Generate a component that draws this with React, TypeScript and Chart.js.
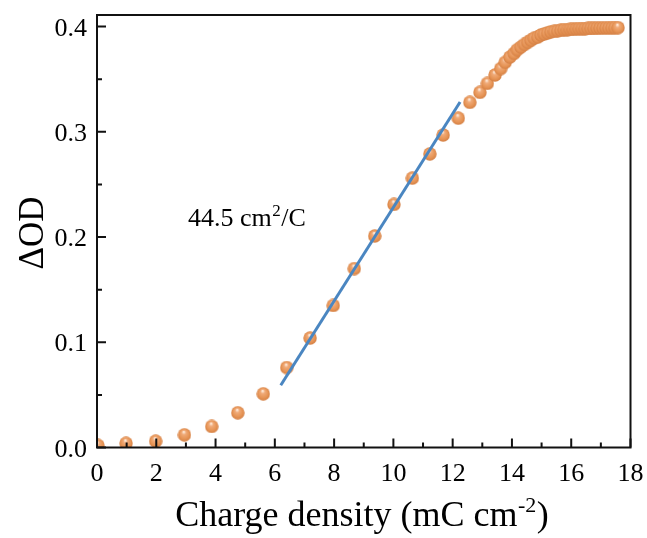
import { useEffect, useRef } from "react";
import { Chart, registerables } from "chart.js";

Chart.register(...registerables);

// Charge density (mC cm^-2) and optical density change of each sample
const chargeDensity = [
  0.03, 0.98, 1.98, 2.95, 3.87, 4.75, 5.61, 6.4, 7.19, 7.97, 8.68, 9.37, 10.02,
  10.64, 11.23, 11.68, 12.19, 12.58, 12.92, 13.17, 13.43, 13.62, 13.77, 13.93,
  14.07, 14.18, 14.3, 14.42, 14.53, 14.64, 14.75, 14.87, 14.98, 15.09, 15.2,
  15.31, 15.43, 15.54, 15.65, 15.76, 15.87, 15.97, 16.07, 16.17, 16.27, 16.37,
  16.47, 16.57, 16.67, 16.77, 16.87, 16.97, 17.07, 17.17, 17.27, 17.37, 17.47,
  17.58,
];
const deltaOD = [
  0.002, 0.004, 0.006, 0.012, 0.02, 0.033, 0.051, 0.076, 0.104, 0.135, 0.17,
  0.201, 0.231, 0.256, 0.279, 0.297, 0.313, 0.328, 0.3375, 0.346, 0.354, 0.36,
  0.366, 0.371, 0.3745, 0.378, 0.3805, 0.383, 0.385, 0.387, 0.389, 0.39, 0.392,
  0.393, 0.394, 0.395, 0.3955, 0.396, 0.3965, 0.397, 0.397, 0.3973, 0.3975,
  0.3977, 0.398, 0.398, 0.398, 0.3982, 0.3983, 0.3984, 0.3985, 0.3986, 0.3987,
  0.3988, 0.3988, 0.3989, 0.399, 0.399,
];

// Linear fit of the coloration region: 44.5 cm²/C = 0.0445 ΔOD per mC cm^-2
const fitSlope = 44.5 / 1000;
const fitIntercept = -0.2168;
const fitRange = [6.2, 12.25];

const xMajorTicks = [0, 2, 4, 6, 8, 10, 12, 14, 16, 18];
const xMinorTicks = [1, 3, 5, 7, 9, 11, 13, 15, 17];
const yMajorTicks = [0, 0.1, 0.2, 0.3, 0.4];
const yMinorTicks = [0.05, 0.15, 0.25, 0.35];
const xTickLabels = ["0", "2", "4", "6", "8", "10", "12", "14", "16", "18"];
const yTickLabels = ["0.0", "0.1", "0.2", "0.3", "0.4"];

const efficiencyMain = "44.5 cm";
const efficiencySup = "2";
const efficiencyEnd = "/C";
const xTitleMain = "Charge density (mC cm";
const xTitleSup = "-2";
const xTitleEnd = ")";
const yTitle = "ΔOD";

const SERIF = '"Liberation Serif", "Times New Roman", serif';

function makeSphere(d: number): HTMLCanvasElement {
  const c = document.createElement("canvas");
  c.width = d;
  c.height = d;
  const g = c.getContext("2d")!;
  const r = d / 2;
  const grad = g.createRadialGradient(r * 0.9, r * 0.55, 0.3, r, r, r);
  grad.addColorStop(0, "#fff1e4");
  grad.addColorStop(0.28, "#f0aa78");
  grad.addColorStop(0.7, "#e69455");
  grad.addColorStop(1, "#d27d42");
  g.fillStyle = grad;
  g.beginPath();
  g.arc(r, r, r - 0.3, 0, Math.PI * 2);
  g.fill();
  return c;
}

// draws text pieces with a raised, smaller middle piece
function drawSup(
  ctx: CanvasRenderingContext2D,
  parts: [string, string, string],
  x: number,
  base: number,
  bigPx: number,
  smallPx: number,
  rise: number,
  align: "left" | "center"
) {
  const big = `${bigPx}px ${SERIF}`;
  const small = `${smallPx}px ${SERIF}`;
  ctx.textAlign = "left";
  ctx.font = big;
  const w1 = ctx.measureText(parts[0]).width;
  const w3 = ctx.measureText(parts[2]).width;
  ctx.font = small;
  const w2 = ctx.measureText(parts[1]).width;
  const total = w1 + w2 + w3 + 1;
  let x0 = align === "center" ? x - total / 2 : x;
  ctx.font = big;
  ctx.fillText(parts[0], x0, base);
  x0 += w1 + 0.5;
  ctx.font = small;
  ctx.fillText(parts[1], x0, base - rise);
  x0 += w2 + 0.5;
  ctx.font = big;
  ctx.fillText(parts[2], x0, base);
}

const framePlugin = {
  id: "frameAndLabels",
  afterDatasetsDraw(chart: any) {
    const { ctx, chartArea } = chart;
    const xs = chart.scales.x;
    const ys = chart.scales.y;
    const { left, right, top, bottom } = chartArea;
    ctx.save();
    ctx.strokeStyle = "#111";
    ctx.lineWidth = 2;
    ctx.strokeRect(left, top, right - left, bottom - top);

    ctx.beginPath();
    const tick = (len: number, xv: number[], yv: number[]) => {
      xv.forEach((v) => {
        const px = xs.getPixelForValue(v);
        ctx.moveTo(px, bottom);
        ctx.lineTo(px, bottom - len);
      });
      yv.forEach((v) => {
        const py = ys.getPixelForValue(v);
        ctx.moveTo(left, py);
        ctx.lineTo(left + len, py);
      });
    };
    tick(9, xMajorTicks, yMajorTicks);
    tick(5, xMinorTicks, yMinorTicks);
    ctx.stroke();

    ctx.fillStyle = "#000";
    ctx.textBaseline = "alphabetic";

    // tick labels
    ctx.font = `26px ${SERIF}`;
    ctx.textAlign = "center";
    xMajorTicks.forEach((v, i) => {
      ctx.fillText(xTickLabels[i], xs.getPixelForValue(v), bottom + 33);
    });
    ctx.textAlign = "right";
    yMajorTicks.forEach((v, i) => {
      ctx.fillText(yTickLabels[i], left - 10, ys.getPixelForValue(v) + 9);
    });

    // annotation
    drawSup(ctx, [efficiencyMain, efficiencySup, efficiencyEnd], 188, 226, 26, 17, 10, "left");

    // x title
    drawSup(ctx, [xTitleMain, xTitleSup, xTitleEnd], 362, 526, 36, 22, 14, "center");

    // y title
    ctx.save();
    ctx.translate(43, 233);
    ctx.rotate(-Math.PI / 2);
    ctx.font = `35px ${SERIF}`;
    ctx.textAlign = "center";
    ctx.fillText(yTitle, 0, 0);
    ctx.restore();

    ctx.restore();
  },
};

export default function App() {
  const canvasRef = useRef<HTMLCanvasElement | null>(null);

  useEffect(() => {
    const canvas = canvasRef.current;
    if (!canvas) return;
    const sphere = makeSphere(14);
    const chart = new Chart(canvas, {
      type: "scatter",
      data: {
        datasets: [
          {
            type: "line",
            data: fitRange.map((x) => ({ x, y: fitSlope * x + fitIntercept })),
            borderColor: "#4a86c1",
            borderWidth: 3,
            pointRadius: 0,
            fill: false,
            order: 0,
          } as any,
          {
            type: "scatter",
            data: chargeDensity.map((x, i) => ({ x, y: deltaOD[i] })),
            pointStyle: sphere as any,
            pointRadius: 7,
            order: 1,
            clip: 0,
          } as any,
        ],
      },
      options: {
        responsive: false,
        animation: false,
        devicePixelRatio: 1,
        layout: { padding: { top: 15, right: 16.5, left: 0, bottom: 0 } },
        plugins: { legend: { display: false }, tooltip: { enabled: false } },
        scales: {
          x: {
            type: "linear",
            min: 0,
            max: 18,
            afterBuildTicks: (s: any) => {
              s.ticks = xMajorTicks.map((v) => ({ value: v }));
            },
            afterFit: (s: any) => {
              s.height = 90.5;
            },
            grid: { display: false, drawTicks: false },
            border: { display: false },
            ticks: { display: false },
          },
          y: {
            type: "linear",
            min: 0,
            max: 0.411,
            afterBuildTicks: (s: any) => {
              s.ticks = yMajorTicks.map((v) => ({ value: v }));
            },
            afterFit: (s: any) => {
              s.width = 97;
            },
            grid: { display: false, drawTicks: false },
            border: { display: false },
            ticks: { display: false },
          },
        },
      },
      plugins: [framePlugin],
    });
    return () => chart.destroy();
  }, []);

  return (
    <div style={{ position: "fixed", left: 0, top: 0, width: 647, height: 538, background: "#fff" }}>
      <canvas ref={canvasRef} width={647} height={538} style={{ display: "block" }} />
    </div>
  );
}
